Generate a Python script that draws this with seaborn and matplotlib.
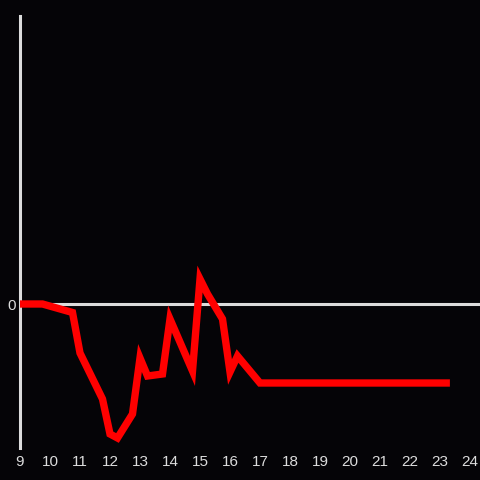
import matplotlib
matplotlib.use("Agg")
import matplotlib.pyplot as plt
import seaborn as sns
import pandas as pd

# hour of day and value (arbitrary units)
hours = [9.0, 9.75, 10.75, 11.0, 11.75, 12.0, 12.25, 12.75, 13.0, 13.25,
         13.75, 14.0, 14.75, 15.0, 15.25, 15.75, 16.0, 16.25, 17.0, 23.33]
values = [0.0, 0.0, -0.85, -4.9, -9.5, -13.0, -13.4, -11.0, -5.4, -7.2,
          -7.0, -1.5, -6.7, 2.5, 1.0, -1.5, -6.8, -5.2, -7.9, -7.9]
x_ticks = list(range(9, 25))
y_ticks = [0]

bg = "#050407"
grey = "#dcdcdc"

sns.set_style("dark")
plt.rcParams["font.family"] = ["Liberation Sans", "DejaVu Sans"]

df = pd.DataFrame({"hour": hours, "value": values})

fig = plt.figure(figsize=(4.8, 4.8), dpi=100, facecolor=bg)
ax = fig.add_axes([20 / 480, 1 - 448 / 480, 460 / 480, 432 / 480])
ax.set_facecolor(bg)

ax.axhline(0, color=grey, linewidth=2.2, zorder=1)
sns.lineplot(data=df, x="hour", y="value", color="#ff0000", linewidth=5.3,
             ax=ax, zorder=3, solid_capstyle="butt", solid_joinstyle="miter")

ax.set_xlim(9, 24 + 10 / 30)
ax.set_ylim(-14.4, 28.8)
ax.set_xticks(x_ticks)
ax.set_yticks(y_ticks)
ax.tick_params(axis="x", length=0, pad=5, labelsize=11, labelcolor=grey)
ax.tick_params(axis="y", length=0, pad=3, labelsize=11, labelcolor=grey)
ax.set_xlabel("")
ax.set_ylabel("")
ax.grid(False)

for side in ["top", "right", "bottom"]:
    ax.spines[side].set_visible(False)
ax.spines["left"].set_color(grey)
ax.spines["left"].set_linewidth(2.2)

fig.savefig("out.png", dpi=100, facecolor=bg)
